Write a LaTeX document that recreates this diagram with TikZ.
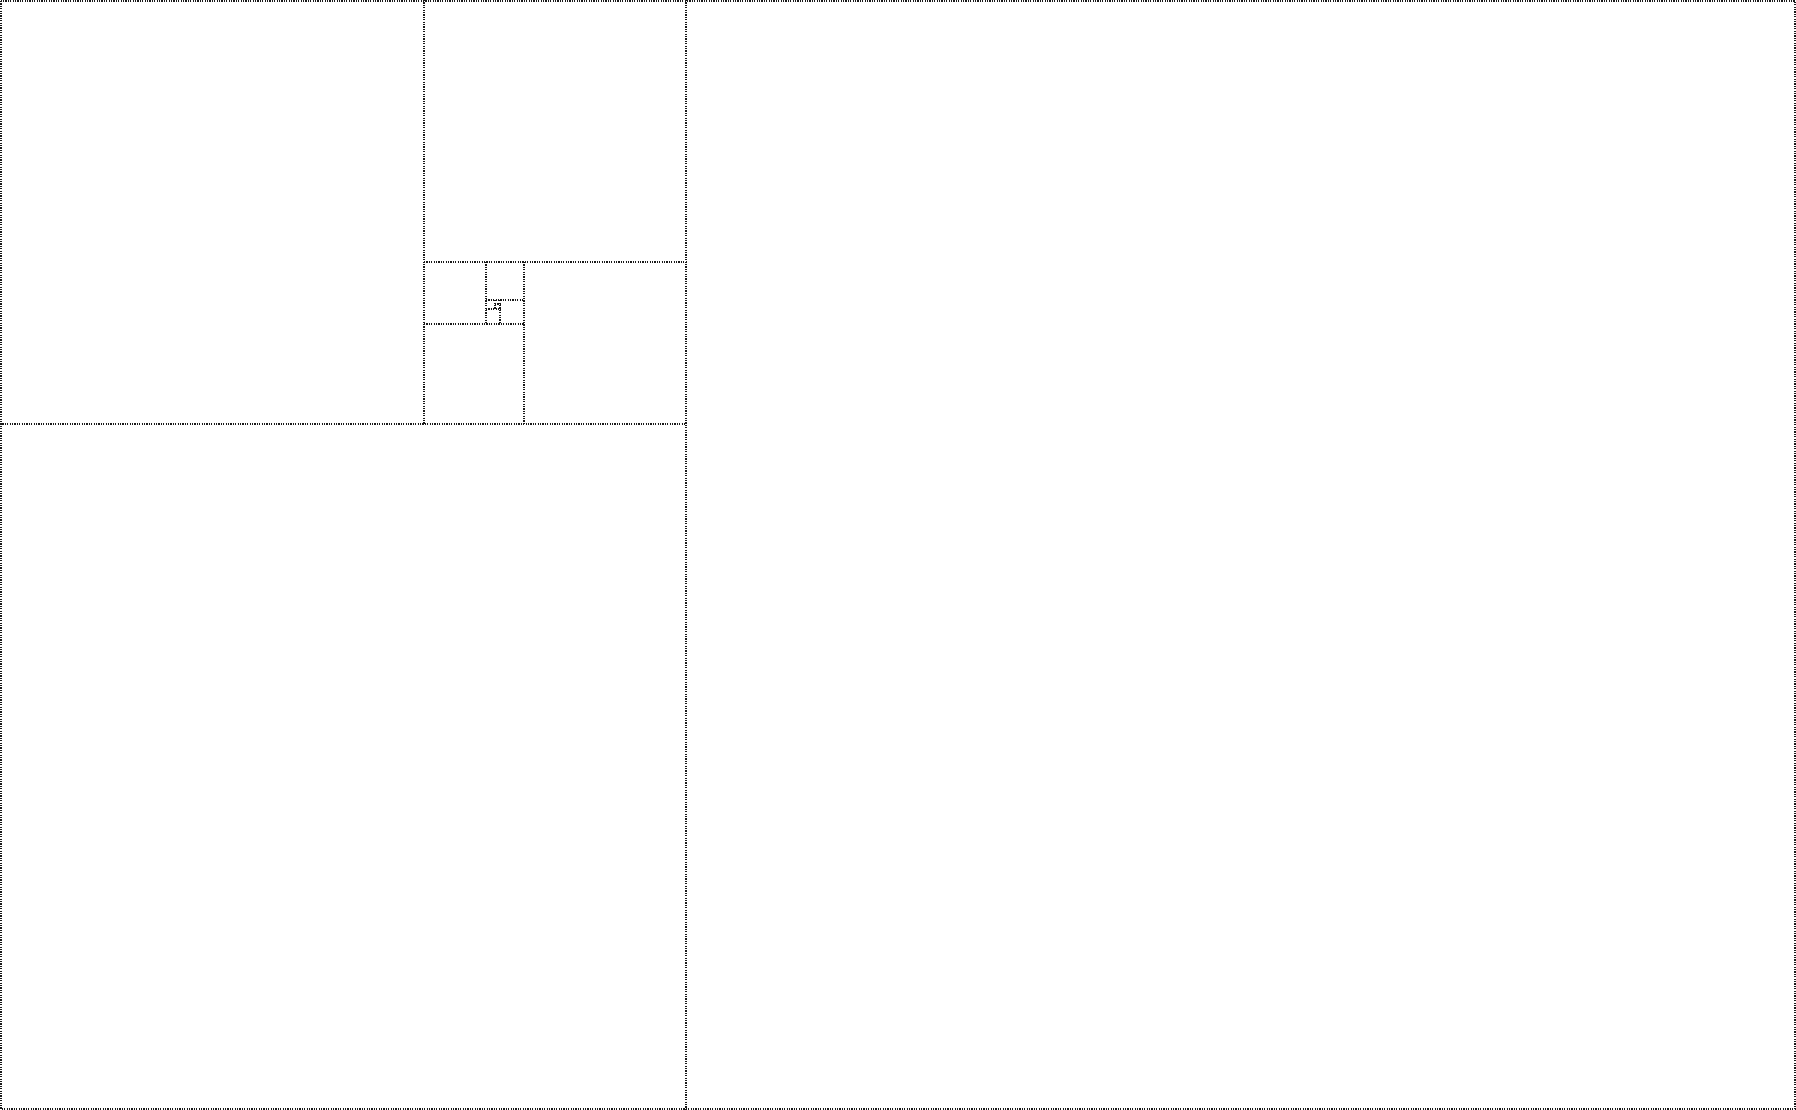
\documentclass[tikz,border=0pt]{standalone}
\begin{document}
\begin{tikzpicture}[x=1pt,y=-1pt,
  gline/.style={line width=2pt, dash pattern=on 1.2pt off 1.2pt, black!90}]
\useasboundingbox (0,0) rectangle (1796,1110);
\fill[white] (0,0) rectangle (1796,1110);
\draw[gline] (1,1) rectangle (1795,1109);
\draw[gline] (686,0) -- (686,1110);
\draw[gline] (0,424) -- (686,424);
\draw[gline] (424,0) -- (424,424);
\draw[gline] (424,262) -- (686,262);
\draw[gline] (524,262) -- (524,424);
\draw[gline] (424,324) -- (524,324);
\draw[gline] (485.9,262) -- (485.9,324);
\draw[gline] (485.9,300.2) -- (524,300.2);
\draw[gline] (500.4,300.2) -- (500.4,324);
\draw[gline] (485.9,309.4) -- (500.4,309.4);
\draw[gline] (494.9,300.2) -- (494.9,309.4);
\draw[gline] (494.9,303.7) -- (500.4,303.7);
\end{tikzpicture}
\end{document}
